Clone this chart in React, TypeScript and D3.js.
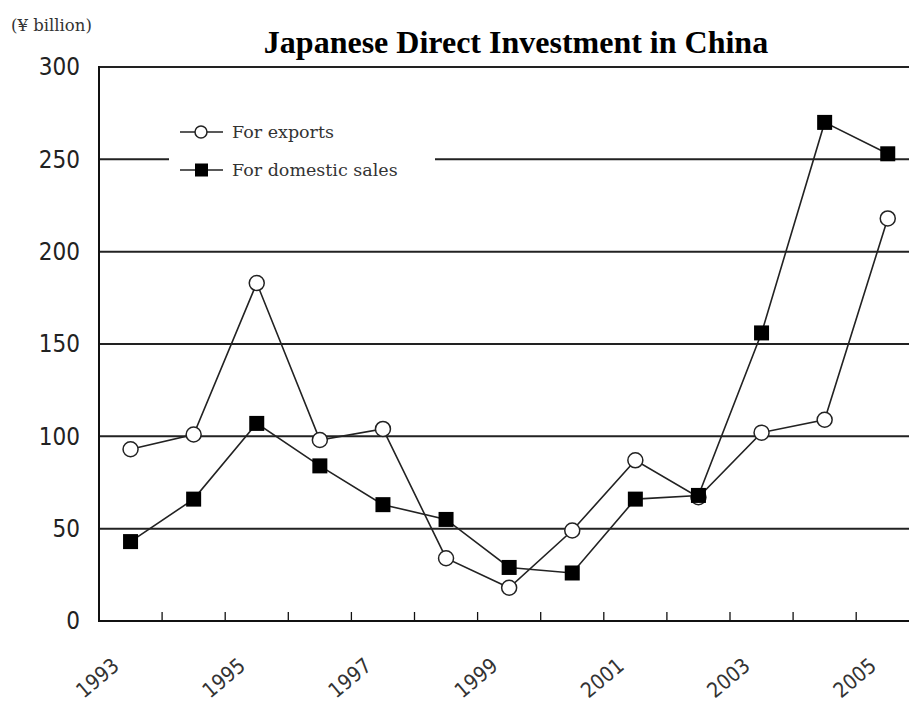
import React, { useEffect, useRef } from "react";
import * as d3 from "d3";

const years = ["1993", "1994", "1995", "1996", "1997", "1998", "1999", "2000", "2001", "2002", "2003", "2004", "2005"];
const exportsValues = [93, 101, 183, 98, 104, 34, 18, 49, 87, 67, 102, 109, 218];
const domesticValues = [43, 66, 107, 84, 63, 55, 29, 26, 66, 68, 156, 270, 253];
const yTicks = [0, 50, 100, 150, 200, 250, 300];
const labelYears = ["1993", "1995", "1997", "1999", "2001", "2003", "2005"];

const App: React.FC = () => {
  const svgRef = useRef<SVGSVGElement>(null);

  useEffect(() => {
    if (!svgRef.current) return;
    const svg = d3.select(svgRef.current);
    svg.selectAll("*").remove();

    const left = 99;
    const step = 63.1;
    const x = d3.scaleBand<string>()
      .domain(years)
      .range([left, left + step * years.length]);
    const y = d3.scaleLinear().domain([0, 300]).range([621, 67]);
    const cx = (yr: string) => (x(yr) as number) + x.bandwidth() / 2;
    const numFont = "'Liberation Sans Narrow', 'DejaVu Sans Condensed', sans-serif";
    const textFont = "'DejaVu Serif', serif";

    // gridlines
    svg.append("g")
      .selectAll("line")
      .data(yTicks.filter(t => t > 0))
      .enter().append("line")
      .attr("x1", left)
      .attr("x2", 909)
      .attr("y1", d => y(d))
      .attr("y2", d => y(d))
      .attr("stroke", "#222")
      .attr("stroke-width", 2);

    // axes
    svg.append("line")
      .attr("x1", left).attr("x2", left)
      .attr("y1", y(300) - 1).attr("y2", y(0) + 1)
      .attr("stroke", "#111").attr("stroke-width", 2);
    svg.append("line")
      .attr("x1", left).attr("x2", 909)
      .attr("y1", y(0)).attr("y2", y(0))
      .attr("stroke", "#111").attr("stroke-width", 2);

    // ticks on bottom axis (band boundaries)
    svg.append("g")
      .selectAll("line")
      .data(years.slice(1))
      .enter().append("line")
      .attr("x1", d => x(d) as number)
      .attr("x2", d => x(d) as number)
      .attr("y1", y(0))
      .attr("y2", y(0) - 9)
      .attr("stroke", "#111")
      .attr("stroke-width", 1.3);

    // y labels
    svg.append("g")
      .selectAll("text")
      .data(yTicks)
      .enter().append("text")
      .attr("x", 80)
      .attr("y", d => y(d))
      .attr("dy", "0.35em")
      .attr("text-anchor", "end")
      .attr("font-family", numFont)
      .attr("font-size", 24)
      .attr("fill", "#222")
      .text(d => d);

    // x labels
    svg.append("g")
      .selectAll("text")
      .data(labelYears)
      .enter().append("text")
      .attr("transform", d => `translate(${cx(d) - 10},${668}) rotate(-40)`)
      .attr("text-anchor", "end")
      .attr("font-family", numFont)
      .attr("font-size", 21)
      .attr("fill", "#333")
      .text(d => d);

    // unit label
    svg.append("text")
      .attr("x", 11).attr("y", 31)
      .attr("font-family", textFont)
      .attr("font-size", 16.5)
      .attr("fill", "#333")
      .text("(¥ billion)");

    // title
    svg.append("text")
      .attr("x", 516).attr("y", 53)
      .attr("text-anchor", "middle")
      .attr("font-family", "'Liberation Serif', serif")
      .attr("font-weight", "bold")
      .attr("font-size", 32)
      .attr("fill", "#000")
      .text("Japanese Direct Investment in China");

    // legend background
    svg.append("rect")
      .attr("x", 169).attr("y", 115)
      .attr("width", 266).attr("height", 70)
      .attr("fill", "#fff");

    const line = d3.line<number>()
      .x((_, i) => cx(years[i]))
      .y(d => y(d));

    svg.append("path")
      .datum(exportsValues)
      .attr("fill", "none")
      .attr("stroke", "#222")
      .attr("stroke-width", 1.6)
      .attr("d", line);

    svg.append("path")
      .datum(domesticValues)
      .attr("fill", "none")
      .attr("stroke", "#222")
      .attr("stroke-width", 1.6)
      .attr("d", line);

    svg.append("g")
      .selectAll("circle")
      .data(exportsValues)
      .enter().append("circle")
      .attr("cx", (_, i) => cx(years[i]))
      .attr("cy", d => y(d))
      .attr("r", 7.5)
      .attr("fill", "#fff")
      .attr("stroke", "#222")
      .attr("stroke-width", 1.5);

    const sq = 15;
    svg.append("g")
      .selectAll("rect")
      .data(domesticValues)
      .enter().append("rect")
      .attr("x", (_, i) => cx(years[i]) - sq / 2)
      .attr("y", d => y(d) - sq / 2)
      .attr("width", sq)
      .attr("height", sq)
      .attr("fill", "#000");

    // legend items
    const lg = svg.append("g").attr("font-family", textFont).attr("font-size", 17.5).attr("fill", "#333");
    const rows = [{ label: "For exports", yy: 132, kind: "circle" }, { label: "For domestic sales", yy: 170, kind: "square" }];
    rows.forEach(r => {
      lg.append("line")
        .attr("x1", 180).attr("x2", 223)
        .attr("y1", r.yy).attr("y2", r.yy)
        .attr("stroke", "#222").attr("stroke-width", 1.6);
      if (r.kind === "circle") {
        lg.append("circle").attr("cx", 201).attr("cy", r.yy).attr("r", 6)
          .attr("fill", "#fff").attr("stroke", "#222").attr("stroke-width", 1.5);
      } else {
        lg.append("rect").attr("x", 195).attr("y", r.yy - 6.5).attr("width", 13).attr("height", 13).attr("fill", "#000");
      }
      lg.append("text").attr("x", 232).attr("y", r.yy).attr("dy", "0.35em").text(r.label);
    });
  }, []);

  return (
    <svg
      ref={svgRef}
      width={909}
      height={702}
      style={{ position: "absolute", left: 0, top: 0, background: "#fff" }}
    />
  );
};

export default App;
